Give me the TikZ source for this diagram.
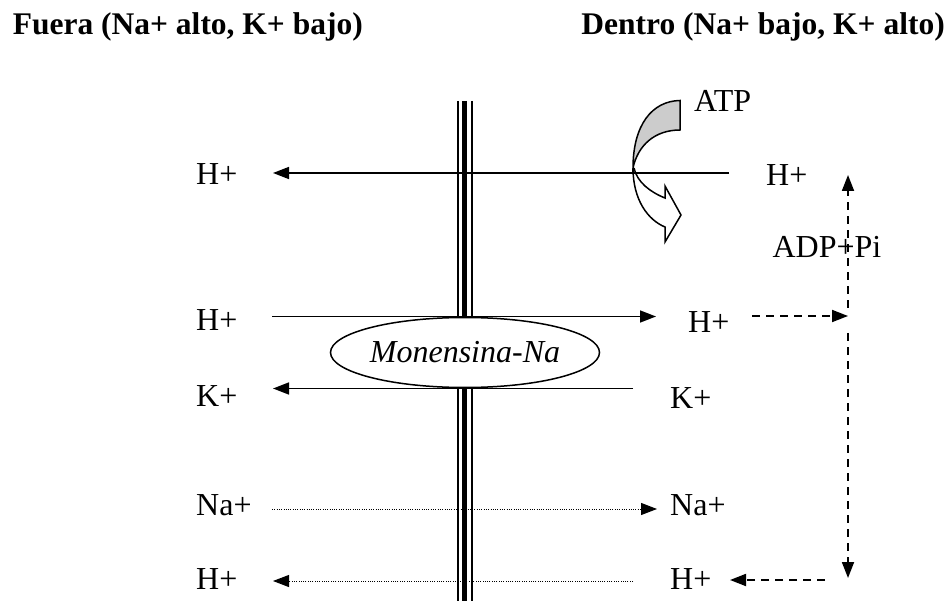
\documentclass[tikz,border=0pt]{standalone}
\usepackage{fontspec}
\setmainfont{Liberation Serif}
\usetikzlibrary{arrows.meta,shapes.geometric}
\begin{document}
\begin{tikzpicture}[x=1pt,y=-1pt,
  lbl/.style={inner sep=0pt, anchor=west, font=\fontsize{32}{36}\selectfont},
  hdr/.style={inner sep=0pt, font=\fontsize{31.5}{36}\selectfont\bfseries},
  tip/.style={-{Triangle[length=16pt,width=12pt]}},
  solidarrow/.style={tip, line width=1.6pt},
  dotarrow/.style={tip, line width=1pt, dash pattern=on 1pt off 1.3pt},
  dasharrow/.style={tip, line width=1.8pt, dash pattern=on 8pt off 6pt},
]
\useasboundingbox (0,0) rectangle (947,601);

% headings
\node[hdr, anchor=east] (hout) at (363,27) {Fuera (Na+ alto, K+ bajo)};
\node[hdr, anchor=east] (hin) at (945,27) {Dentro (Na+ bajo, K+ alto)};

% membrane
\draw[line width=2pt] (457.5,101) -- (457.5,601);
\draw[line width=5pt] (464,101) -- (464,601);
\draw[line width=2pt] (472,101) -- (472,601);

% ionophore
\node[draw, fill=white, ellipse, line width=1.5pt, minimum width=241pt, minimum height=70pt, inner sep=0pt,
      font=\fontsize{32}{36}\selectfont\itshape] (mon) at (465,352.5) {Monensina-Na};

% ATP curved arrow
\draw[line width=1.5pt, fill=black!20] (680,100.5) .. controls (652,101) and (633,125) .. (633,168)
   .. controls (638,145) and (655,130) .. (680,130) -- cycle;
\draw[line width=1.5pt, line join=miter] (633,168) .. controls (633,200) and (648,220) .. (665,227)
   -- (665,242) -- (681,215) -- (665,186) -- (665,198)
   .. controls (650,192) and (637,182) .. (634,168);
\node[lbl] (atp) at (694,101) {ATP};

% labels left
\node[lbl] (l1) at (196,174) {H+};
\node[lbl] (l2) at (196,320) {H+};
\node[lbl] (l3) at (196,396) {K+};
\node[lbl] (l4) at (196,505) {Na+};
\node[lbl] (l5) at (196,579) {H+};
% labels right
\node[lbl] (r1) at (766,175) {H+};
\node[lbl] (r2) at (688,322) {H+};
\node[lbl] (r3) at (670,398) {K+};
\node[lbl] (r4) at (670,505) {Na+};
\node[lbl] (r5) at (670,579) {H+};
\node[lbl, anchor=center] (adp) at (827,247) {ADP+Pi};

% arrow end points
\coordinate (a1s) at (729,173);   \coordinate (a1e) at (273,173);
\coordinate (a2s) at (272,316.5); \coordinate (a2e) at (656,316.5);
\coordinate (a3s) at (633,388.5); \coordinate (a3e) at (273,388.5);
\coordinate (a4s) at (272,509);   \coordinate (a4e) at (657,509);
\coordinate (a5s) at (633,581);   \coordinate (a5e) at (273,581);
\coordinate (d1s) at (752,316);   \coordinate (d1e) at (848,316);
\coordinate (dus) at (848,308);   \coordinate (due) at (848,175);
\coordinate (dds) at (848,333);   \coordinate (dde) at (848,578);
\coordinate (d5s) at (825,580);   \coordinate (d5e) at (730,580);

\draw[solidarrow] (a1s) -- (a1e);
\draw[solidarrow] (a2s) -- (a2e);
\draw[solidarrow] (a3s) -- (a3e);
\draw[dotarrow] (a4s) -- (a4e);
\draw[dotarrow] (a5s) -- (a5e);
\draw[dasharrow] (d1s) -- (d1e);
\draw[dasharrow] (dus) -- (due);
\draw[dasharrow] (dds) -- (dde);
\draw[dasharrow] (d5s) -- (d5e);
\end{tikzpicture}
\end{document}
